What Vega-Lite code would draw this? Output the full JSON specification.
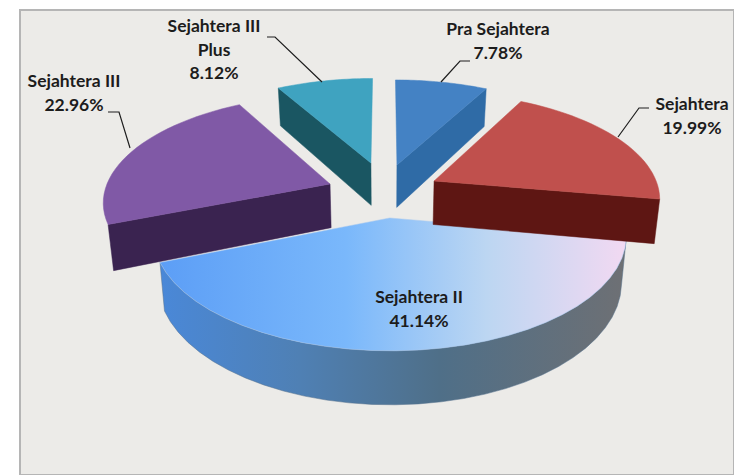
{
"$schema":"https://vega.github.io/schema/vega-lite/v6.json",
"width":714,"height":465,
"padding":{"left":20,"top":10,"right":0,"bottom":0},
"background":"#ffffff",
"view":{"fill":"#ecebe8","stroke":"#b5b5b5","strokeWidth":2},
"data":{"values":[
{"slice":"Pra Sejahtera","share":7.78},
{"slice":"Sejahtera","share":19.99},
{"slice":"Sejahtera II","share":41.14},
{"slice":"Sejahtera III","share":22.96},
{"slice":"Sejahtera III Plus","share":8.12}
]},
"transform":[
{"window":[{"op":"sum","field":"share","as":"cum"}],"frame":[null,0]},
{"calculate":"(datum.cum-datum.share)/100*2*PI","as":"a0"},
{"calculate":"datum.cum/100*2*PI","as":"a1"},
{"calculate":"{'Pra Sejahtera':0.055,'Sejahtera':0.221,'Sejahtera II':0.02,'Sejahtera III':-0.2465,'Sejahtera III Plus':-0.065}[datum.slice]","as":"ex"},
{"calculate":"{'Pra Sejahtera':0.399,'Sejahtera':0.2375,'Sejahtera II':-0.108,'Sejahtera III':0.208,'Sejahtera III Plus':0.419}[datum.slice]","as":"ey"},
{"calculate":"['top','wall','side']","as":"part"},
{"flatten":["part"]},
{"calculate":"sequence(0,62)","as":"k"},
{"flatten":["k"]},
{"filter":"datum.part=='top'?datum.k<=31:datum.part=='wall'?datum.k<=61:datum.k<=3"},
{"calculate":"datum.part=='top'?(datum.k==0?0:1):datum.part=='wall'?1:((datum.k==1||datum.k==2)?1:0)","as":"r"},
{"calculate":"datum.part=='top'?0:datum.part=='wall'?(datum.k>30?1:0):(datum.k>=2?1:0)","as":"z"},
{"calculate":"datum.part=='top'?datum.a0+(datum.a1-datum.a0)*(datum.k-1)/30:datum.part=='wall'?datum.a0+(datum.a1-datum.a0)*(datum.k<=30?datum.k:61-datum.k)/30:((datum.slice=='Pra Sejahtera'||datum.slice=='Sejahtera')?datum.a1:datum.a0)","as":"th"},
{"calculate":"datum.ex+datum.r*sin(datum.th)","as":"gx"},
{"calculate":"datum.ey+datum.r*cos(datum.th)","as":"gy"},
{"calculate":"1+0.15*datum.gy","as":"w"},
{"calculate":"385+230*datum.gx/datum.w*(datum.z==1?0.98:1)","as":"px"},
{"calculate":"206-109*datum.gy/datum.w+datum.z*45/datum.w","as":"py"}
],
"encoding":{
"x":{"field":"px","type":"quantitative","scale":{"domain":[20,734],"nice":false,"zero":false},"axis":null},
"y":{"field":"py","type":"quantitative","scale":{"domain":[475,10],"nice":false,"zero":false},"axis":null},
"order":{"field":"k","type":"quantitative"},
"detail":{"field":"part","type":"nominal"}
},
"layer":[
{"transform":[{"filter":"datum.slice=='Sejahtera II'&&datum.part=='wall'"}],
 "mark":{"type":"line","interpolate":"linear-closed","strokeWidth":0.5,"stroke":"#55708c","fill":{"gradient":"linear","x1":0,"y1":0,"x2":1,"y2":0,"stops":[{"offset":0,"color":"#4a88d8"},{"offset":0.3,"color":"#4f80b4"},{"offset":0.6,"color":"#4f6f88"},{"offset":1,"color":"#6e7074"}]}}},
{"transform":[{"filter":"datum.slice=='Sejahtera II'&&datum.part=='top'"}],
 "mark":{"type":"line","interpolate":"linear-closed","strokeWidth":0.5,"stroke":"#a9c8ee","fill":{"gradient":"linear","x1":0,"y1":0,"x2":1,"y2":0,"stops":[{"offset":0,"color":"#5c9ef6"},{"offset":0.4,"color":"#7ab8fb"},{"offset":0.7,"color":"#bcd6f2"},{"offset":1,"color":"#f2d9f2"}]}}},
{"transform":[{"filter":"datum.slice=='Sejahtera III Plus'&&datum.part=='side'"}],
 "mark":{"type":"line","interpolate":"linear-closed","strokeWidth":0.5,"stroke":"#1a5662","fill":"#1a5662"}},
{"transform":[{"filter":"datum.slice=='Sejahtera III Plus'&&datum.part=='top'"}],
 "mark":{"type":"line","interpolate":"linear-closed","strokeWidth":0.5,"stroke":"#3fa3c0","fill":"#3fa3c0"}},
{"transform":[{"filter":"datum.slice=='Pra Sejahtera'&&datum.part=='side'"}],
 "mark":{"type":"line","interpolate":"linear-closed","strokeWidth":0.5,"stroke":"#2f6ba6","fill":"#2f6ba6"}},
{"transform":[{"filter":"datum.slice=='Pra Sejahtera'&&datum.part=='top'"}],
 "mark":{"type":"line","interpolate":"linear-closed","strokeWidth":0.5,"stroke":"#4482c4","fill":"#4482c4"}},
{"transform":[{"filter":"datum.slice=='Sejahtera'&&datum.part=='side'"}],
 "mark":{"type":"line","interpolate":"linear-closed","strokeWidth":0.5,"stroke":"#5e1613","fill":"#5e1613"}},
{"transform":[{"filter":"datum.slice=='Sejahtera'&&datum.part=='top'"}],
 "mark":{"type":"line","interpolate":"linear-closed","strokeWidth":0.5,"stroke":"#c0504d","fill":"#c0504d"}},
{"transform":[{"filter":"datum.slice=='Sejahtera III'&&datum.part=='side'"}],
 "mark":{"type":"line","interpolate":"linear-closed","strokeWidth":0.5,"stroke":"#3a2350","fill":"#3a2350"}},
{"transform":[{"filter":"datum.slice=='Sejahtera III'&&datum.part=='top'"}],
 "mark":{"type":"line","interpolate":"linear-closed","strokeWidth":0.5,"stroke":"#8059a6","fill":"#8059a6"}},
{"transform":[
 {"filter":"datum.part=='top'&&datum.k<=2&&datum.slice!='Sejahtera II'"},
 {"calculate":"{'Pra Sejahtera':[470,460,441],'Sejahtera':[649,639,618],'Sejahtera III':[108,119,130],'Sejahtera III Plus':[267,275,322]}[datum.slice][datum.k]","as":"lx"},
 {"calculate":"{'Pra Sejahtera':[61,61,82],'Sejahtera':[108,108,137],'Sejahtera III':[112,112,148],'Sejahtera III Plus':[37,37,82]}[datum.slice][datum.k]","as":"ly"}],
 "mark":{"type":"line","color":"#1e1e1e","strokeWidth":1.2},
 "encoding":{
  "x":{"field":"lx","type":"quantitative"},
  "y":{"field":"ly","type":"quantitative"},
  "detail":{"field":"slice","type":"nominal"}}},
{"transform":[
 {"filter":"datum.part=='top'&&datum.k==0"},
 {"calculate":"replace(datum.slice,' Plus','\\nPlus')+'\\n'+format(datum.share,'.2f')+'%'","as":"label"},
 {"calculate":"{'Pra Sejahtera':498,'Sejahtera':692,'Sejahtera II':419,'Sejahtera III':74,'Sejahtera III Plus':214}[datum.slice]","as":"tx"},
 {"calculate":"{'Pra Sejahtera':30,'Sejahtera':105,'Sejahtera II':298,'Sejahtera III':82,'Sejahtera III Plus':27}[datum.slice]","as":"ty"}],
 "mark":{"type":"text","font":"Lato","fontWeight":"bold","fontSize":17.5,"lineHeight":23.5,"lineBreak":"\n","align":"center","baseline":"middle","color":"#1c1c1c"},
 "encoding":{
  "x":{"field":"tx","type":"quantitative"},
  "y":{"field":"ty","type":"quantitative"},
  "text":{"field":"label","type":"nominal"}}}
]
}
